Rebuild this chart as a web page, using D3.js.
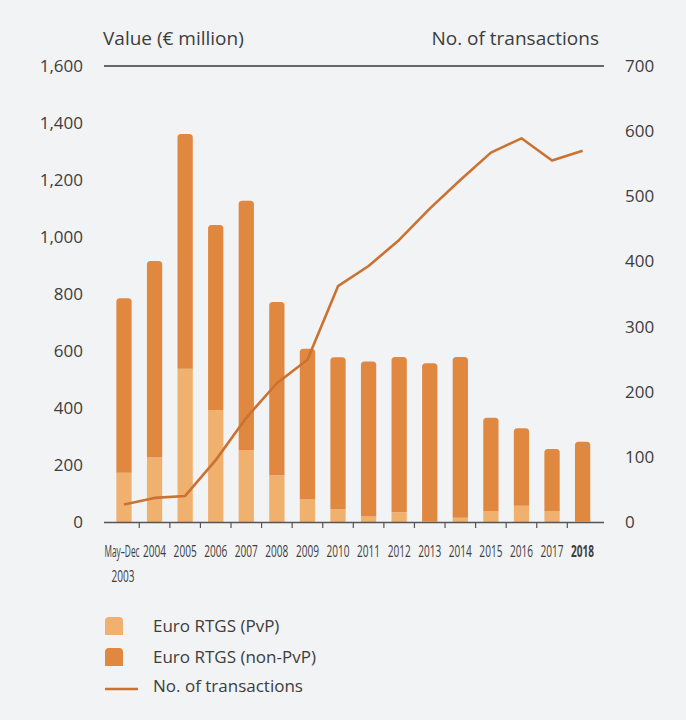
<!DOCTYPE html>
<html>
<head>
<meta charset="utf-8">
<script src="https://cdn.jsdelivr.net/npm/d3@7"></script>
<style>
  html, body { margin: 0; padding: 0; background: #f2f3f5; }
  svg { display: block; }
  text { font-family: "Open Sans", "Noto Sans", sans-serif; fill: #3d3d3d; }
</style>
</head>
<body>
<div id="chart"></div>
<script>
// ---------- data ----------
const categories = ["May–Dec 2003", "2004", "2005", "2006", "2007", "2008", "2009", "2010",
                    "2011", "2012", "2013", "2014", "2015", "2016", "2017", "2018"];
const pvpValues    = [173, 226, 538, 393, 253, 164, 80, 45, 19, 34, 3, 15, 39, 57, 39, 2];
const nonPvpValues = [612, 690, 823, 649, 874, 608, 528, 533, 544, 545, 554, 564, 327, 272, 217, 280];
const transactions = [27, 37, 40, 95, 160, 213, 249, 362, 393, 433, 481, 525, 567, 589, 555, 570];
const leftTicks  = [0, 200, 400, 600, 800, 1000, 1200, 1400, 1600];
const rightTicks = [0, 100, 200, 300, 400, 500, 600, 700];
const legendLabels = ["Euro RTGS (PvP)", "Euro RTGS (non-PvP)", "No. of transactions"];

// ---------- layout ----------
const W = 686, H = 720;
const colPvp = "#f0b16e", colNon = "#e08840", colLine = "#cb7232";

const svg = d3.select("#chart").append("svg").attr("width", W).attr("height", H);
svg.append("rect").attr("width", W).attr("height", H).attr("fill", "#f2f3f5");

const x = d3.scaleBand().domain(categories).range([108.7, 597.9])
  .paddingInner(0.5).paddingOuter(0.25);
const yL = d3.scaleLinear().domain([0, 1600]).range([522, 66]);
const yR = d3.scaleLinear().domain([0, 700]).range([522, 66]);
const bw = x.bandwidth();

function topRounded(x0, y0, w, h, r) {
  r = Math.min(r, h, w / 2);
  return `M${x0},${y0 + h}V${y0 + r}Q${x0},${y0} ${x0 + r},${y0}H${x0 + w - r}Q${x0 + w},${y0} ${x0 + w},${y0 + r}V${y0 + h}Z`;
}

// header texts and top rule
svg.append("text").attr("x", 103).attr("y", 45).attr("font-size", 19).text("Value (€ million)");
svg.append("text").attr("x", 599).attr("y", 45).attr("font-size", 19).attr("text-anchor", "end").text("No. of transactions");
svg.append("line").attr("x1", 104).attr("x2", 604).attr("y1", yL(1600)).attr("y2", yL(1600))
  .attr("stroke", "#3a3a3a").attr("stroke-width", 1.5);

// left axis labels
svg.append("g").selectAll("text").data(leftTicks).join("text")
  .attr("x", 83).attr("y", d => yL(d)).attr("dy", "0.35em")
  .attr("text-anchor", "end").attr("font-size", 17)
  .text(d => d3.format(",")(d));

// right axis labels
svg.append("g").selectAll("text").data(rightTicks).join("text")
  .attr("x", 625).attr("y", d => yR(d)).attr("dy", "0.35em")
  .attr("text-anchor", "start").attr("font-size", 17)
  .text(d => d);

// bars
const bars = svg.append("g");
categories.forEach((c, i) => {
  const x0 = x(c);
  const pv = pvpValues[i], np = nonPvpValues[i];
  bars.append("rect").attr("x", x0).attr("width", bw)
    .attr("y", yL(pv)).attr("height", yL(0) - yL(pv)).attr("fill", colPvp);
  const yTop = yL(pv + np), yBot = yL(pv);
  bars.append("path").attr("d", topRounded(x0, yTop, bw, yBot - yTop, 3.5)).attr("fill", colNon);
});

// baseline + ticks
svg.append("line").attr("x1", 104).attr("x2", 604).attr("y1", 522.5).attr("y2", 522.5)
  .attr("stroke", "#555").attr("stroke-width", 1.5);
svg.append("g").selectAll("line").data(categories.slice(0, -1)).join("line")
  .attr("x1", d => x(d) + bw / 2 + x.step() / 2).attr("x2", d => x(d) + bw / 2 + x.step() / 2)
  .attr("y1", 522).attr("y2", 528).attr("stroke", "#555").attr("stroke-width", 1.2);

// x labels
const xl = svg.append("g");
categories.forEach((c, i) => {
  const cx = x(c) + bw / 2;
  if (i === 0) {
    xl.append("text").attr("transform", `translate(${cx - 2},557) scale(0.52,1)`)
      .attr("text-anchor", "middle").attr("font-size", 16).text("May–Dec");
    xl.append("text").attr("transform", `translate(${cx - 1},582) scale(0.63,1)`)
      .attr("text-anchor", "middle").attr("font-size", 16).text("2003");
  } else {
    xl.append("text").attr("transform", `translate(${cx},557) scale(0.63,1)`)
      .attr("text-anchor", "middle").attr("font-size", 16)
      .attr("font-weight", c === "2018" ? "bold" : "normal")
      .attr("fill", c === "2018" ? "#222" : "#3d3d3d")
      .text(c);
  }
});

// transactions line
const line = d3.line().x((d, i) => x(categories[i]) + bw / 2).y(d => yR(d));
svg.append("path").datum(transactions).attr("d", line)
  .attr("fill", "none").attr("stroke", colLine).attr("stroke-width", 2.6)
  .attr("stroke-linejoin", "round");

// legend
const lg = svg.append("g");
lg.append("path").attr("d", topRounded(105, 617, 18, 18, 4)).attr("fill", colPvp);
lg.append("path").attr("d", topRounded(105, 648, 18, 18, 4)).attr("fill", colNon);
lg.append("line").attr("x1", 105).attr("x2", 138).attr("y1", 689).attr("y2", 689)
  .attr("stroke", colLine).attr("stroke-width", 2.6);
[626, 657, 686].forEach((yy, i) => {
  lg.append("text").attr("x", 153).attr("y", yy).attr("dy", "0.35em")
    .attr("font-size", 17).text(legendLabels[i]);
});
</script>
</body>
</html>
